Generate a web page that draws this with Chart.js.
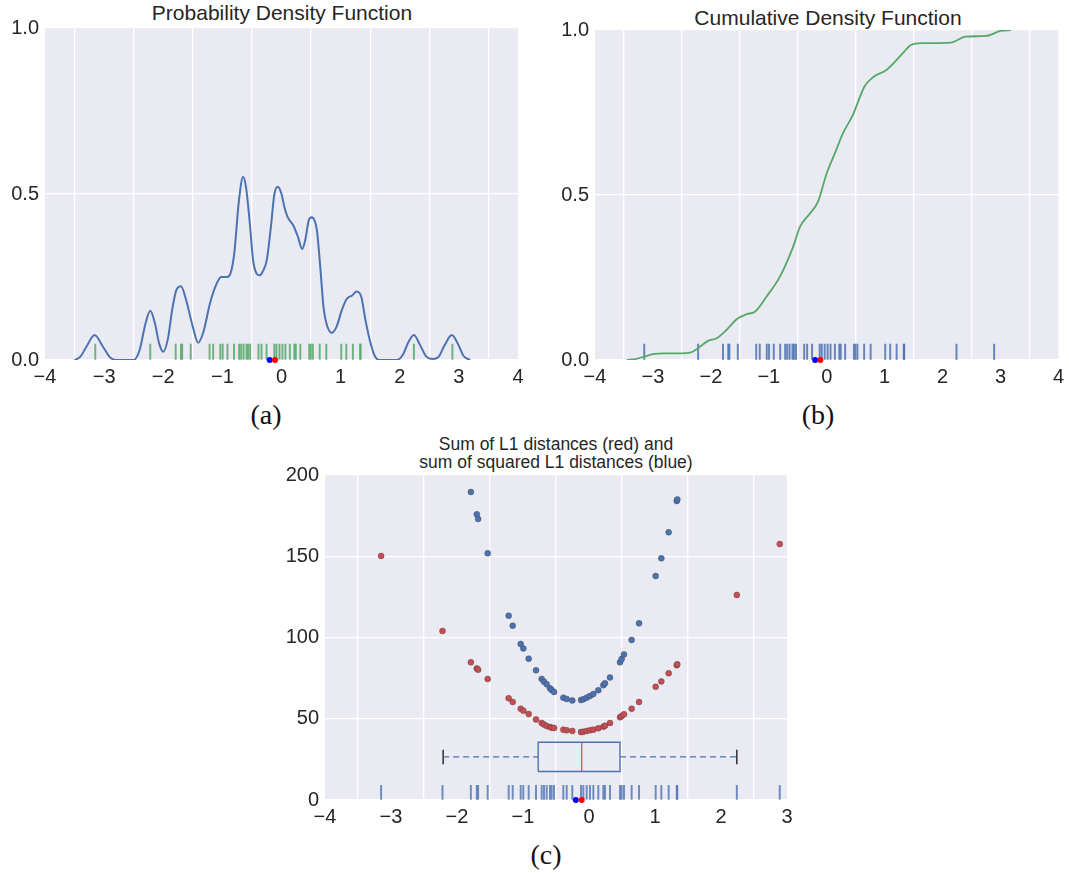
<!DOCTYPE html>
<html>
<head>
<meta charset="utf-8">
<script src="https://cdn.jsdelivr.net/npm/chart.js@4.4.1/dist/chart.umd.min.js"></script>
<style>
  body { margin: 0; background: #fff; width: 1069px; height: 873px; position: relative; overflow: hidden;
         font-family: "Liberation Sans", Arial, sans-serif; color: #262626; }
  canvas { position: absolute; }
  .title { position: absolute; transform: translate(-50%, -50%); white-space: nowrap; text-align: center; }
  .sub { position: absolute; transform: translate(-50%, -50%); font-family: "Liberation Serif", serif; font-size: 28px; color: #111; }
</style>
</head>
<body>
<div class="title" style="left:282px; top:13px; font-size:21px;">Probability Density Function</div>
<div class="title" style="left:828px; top:18px; font-size:21px;">Cumulative Density Function</div>
<div class="title" style="left:556px; top:453px; font-size:17.5px; line-height:18px;">Sum of L1 distances (red) and<br>sum of squared L1 distances (blue)</div>
<div class="sub" style="left:266px; top:415px;">(a)</div>
<div class="sub" style="left:818px; top:415px;">(b)</div>
<div class="sub" style="left:546px; top:855px;">(c)</div>

<canvas id="pdfChart" width="530" height="394" style="left:0; top:6px;"></canvas>
<canvas id="cdfChart" width="519" height="392" style="left:550px; top:8px;"></canvas>
<canvas id="distChart" width="530" height="387" style="left:270px; top:453px;"></canvas>

<script>
// observed samples (shown as rug ticks and as x of the distance plot)
const samples = [-3.15, -2.22, -1.79, -1.70, -1.68, -1.535, -1.217, -1.156, -1.035, -0.995, -0.914, -0.803,
  -0.717, -0.682, -0.641, -0.591, -0.566, -0.530, -0.389, -0.338, -0.253, -0.121, -0.086, -0.035, 0.015,
  0.066, 0.141, 0.217, 0.242, 0.318, 0.470, 0.495, 0.530, 0.646, 0.758, 1.010, 1.096, 1.207, 1.330, 1.338,
  2.24, 2.89];
// sum of |x - xi| evaluated at each sample
const l1Sums = [150.2, 104, 84.7, 81, 80.2, 74.5, 62.6, 60.3, 56.2, 55, 52.9, 49.6, 47.4, 46.4, 45.5, 44.9,
  44.5, 44.3, 43.3, 42.9, 42.5, 41.8, 42, 42.5, 42.9, 43.3, 44.1, 45.1, 45.7, 47.4, 50.9, 51.7, 52.7, 56.2,
  60.3, 69.7, 73, 78, 83, 83.5, 126.2, 157.5];
// sum of squared distances (null = above the axis limit)
const sqSums = [null, null, 189.5, 175.8, 172.9, 151.8, 113.4, 107.3, 96, 93.3, 87, 79.8, 74.5, 72.8, 71.2,
  68.7, 67.7, 66.5, 63, 62.2, 61.3, 61.5, 62, 63, 64, 65.2, 67.5, 70.6, 71.8, 75.4, 84.7, 86.8, 89.6, 98.5,
  108.7, 137.8, 148.7, 164.7, 184, 185, null, null];

const sampleMean = -0.2;
const sampleMedian = -0.11;
// whisker low, q1, median, q3, whisker high
const boxStats = [-2.21, -0.77, -0.11, 0.47, 2.24];

// kernel density estimate
const pdfX = [-3.50, -3.40, -3.30, -3.16, -3.02, -2.90, -2.80, -2.50, -2.40, -2.30, -2.22, -2.14, -2.07, -2.00,
  -1.92, -1.85, -1.78, -1.70, -1.62, -1.50, -1.41, -1.32, -1.21, -1.12, -1.02, -0.92, -0.86, -0.80, -0.72,
  -0.65, -0.60, -0.54, -0.48, -0.42, -0.37, -0.32, -0.25, -0.18, -0.12, -0.06, 0.00, 0.05, 0.10, 0.20, 0.28,
  0.35, 0.40, 0.46, 0.51, 0.56, 0.60, 0.66, 0.71, 0.76, 0.85, 0.93, 1.02, 1.10, 1.20, 1.27, 1.35, 1.42, 1.50,
  1.57, 1.65, 1.95, 2.05, 2.15, 2.24, 2.33, 2.45, 2.56, 2.65, 2.76, 2.88, 2.98, 3.08, 3.19];
const pdfY = [0.000, 0.010, 0.040, 0.075, 0.040, 0.008, 0.000, 0.000, 0.030, 0.110, 0.148, 0.110, 0.050, 0.025,
  0.065, 0.150, 0.210, 0.222, 0.185, 0.100, 0.052, 0.085, 0.170, 0.220, 0.250, 0.250, 0.262, 0.320, 0.480,
  0.552, 0.520, 0.420, 0.300, 0.260, 0.255, 0.266, 0.300, 0.400, 0.500, 0.522, 0.500, 0.460, 0.432, 0.405, 0.370,
  0.334, 0.360, 0.420, 0.430, 0.420, 0.390, 0.270, 0.160, 0.110, 0.082, 0.100, 0.150, 0.183, 0.195, 0.206, 0.190,
  0.120, 0.055, 0.015, 0.000, 0.000, 0.015, 0.055, 0.075, 0.050, 0.010, 0.003, 0.008, 0.045, 0.075, 0.050,
  0.012, 0.000];

// cumulative of the estimate
const cdfX = [-3.45, -3.30, -3.15, -3.00, -2.80, -2.50, -2.36, -2.19, -2.05, -1.90, -1.73, -1.55, -1.38, -1.24,
  -1.04, -0.81, -0.58, -0.46, -0.29, -0.15, 0.00, 0.14, 0.28, 0.45, 0.65, 0.80, 1.03, 1.31, 1.46, 1.66, 2.15,
  2.40, 2.75, 3.00, 3.18];
const cdfY = [0.000, 0.003, 0.010, 0.018, 0.020, 0.020, 0.022, 0.040, 0.058, 0.066, 0.091, 0.124, 0.139, 0.146,
  0.192, 0.252, 0.343, 0.404, 0.444, 0.480, 0.566, 0.626, 0.687, 0.742, 0.828, 0.857, 0.879, 0.929, 0.955,
  0.960, 0.962, 0.980, 0.982, 0.997, 1.000];

const BLUE = '#4C72B0', GREEN = '#55A868', RED = '#C44E52';

Chart.defaults.color = '#262626';
Chart.defaults.font.family = '"Liberation Sans", Arial, sans-serif';
Chart.defaults.animation = false;

const panelBg = {
  id: 'panelBg',
  beforeDraw(chart) {
    const { ctx, chartArea: a } = chart;
    ctx.save();
    ctx.fillStyle = '#EAEAF2';
    ctx.fillRect(a.left, a.top, a.right - a.left, a.bottom - a.top);
    ctx.restore();
  }
};

function minusLabel(v) {
  return v < 0 ? '\u2212' + Math.abs(v) : String(v);
}

function axes(xmin, xmax, ymin, ymax, ystep, yfmt, yWidth) {
  return {
    x: {
      type: 'linear', min: xmin, max: xmax, offset: false,
      grid: { color: '#fff', lineWidth: 1.3, drawTicks: false },
      border: { display: false },
      ticks: { stepSize: 1, padding: 5, font: { size: 20 }, callback: minusLabel },
      afterFit(s) { s.height = 40; }
    },
    y: {
      type: 'linear', min: ymin, max: ymax,
      grid: { color: '#fff', lineWidth: 1.3, drawTicks: false },
      border: { display: false },
      ticks: { stepSize: ystep, padding: 6, font: { size: 20 }, callback: yfmt },
      afterFit(s) { s.width = yWidth; }
    }
  };
}

function rug(color, top) {
  return {
    type: 'bar',
    data: samples.map(x => ({ x: x, y: [0, top] })),
    backgroundColor: color,
    borderWidth: 0,
    barThickness: 1.3,
    grouped: false
  };
}

function centreDots() {
  return [
    { type: 'scatter', data: [{ x: sampleMedian, y: 0 }], backgroundColor: '#FF0000', borderWidth: 0, pointRadius: 3, clip: false },
    { type: 'scatter', data: [{ x: sampleMean, y: 0 }], backgroundColor: '#0000FF', borderWidth: 0, pointRadius: 3, clip: false }
  ];
}

const baseOptions = (pad, scales) => ({
  responsive: false,
  layout: { padding: pad },
  plugins: { legend: { display: false }, tooltip: { enabled: false } },
  scales: scales
});

// (a) density
new Chart('pdfChart', {
  type: 'scatter',
  data: {
    datasets: [
      ...centreDots(),
      {
        type: 'line',
        data: pdfX.map((x, i) => ({ x: x, y: pdfY[i] })),
        borderColor: BLUE, borderWidth: 2, pointRadius: 0,
        cubicInterpolationMode: 'monotone', fill: false
      },
      rug('rgba(85,168,104,0.85)', 0.048)
    ]
  },
  options: baseOptions({ top: 22, right: 12, left: 0, bottom: 0 },
    axes(-4, 4, 0, 1, 0.5, v => v.toFixed(1), 45)),
  plugins: [panelBg]
});

// (b) cumulative
new Chart('cdfChart', {
  type: 'scatter',
  data: {
    datasets: [
      ...centreDots(),
      {
        type: 'line',
        data: cdfX.map((x, i) => ({ x: x, y: cdfY[i] })),
        borderColor: GREEN, borderWidth: 1.8, pointRadius: 0,
        cubicInterpolationMode: 'monotone', fill: false
      },
      rug('rgba(76,114,176,0.85)', 0.048)
    ]
  },
  options: baseOptions({ top: 22, right: 9, left: 0, bottom: 0 },
    axes(-4, 4, 0, 1, 0.5, v => v.toFixed(1), 45)),
  plugins: [panelBg]
});

// (c) distance sums with a box plot of the samples
const boxMid = 26.5, boxHalf = 9, capHalf = 4.5;
const [wLo, q1, med, q3, wHi] = boxStats;

new Chart('distChart', {
  type: 'scatter',
  data: {
    datasets: [
      ...centreDots(),
      {
        data: samples.map((x, i) => ({ x: x, y: sqSums[i] })),
        backgroundColor: BLUE, borderColor: 'rgba(50,50,60,0.55)', borderWidth: 0.6, pointRadius: 3
      },
      {
        data: samples.map((x, i) => ({ x: x, y: l1Sums[i] })),
        backgroundColor: RED, borderColor: 'rgba(60,40,40,0.55)', borderWidth: 0.6, pointRadius: 3
      },
      {
        type: 'line',
        data: [{ x: med, y: boxMid - boxHalf }, { x: med, y: boxMid + boxHalf }],
        borderColor: RED, borderWidth: 1.2, pointRadius: 0
      },
      {
        type: 'line',
        data: [{ x: q1, y: boxMid - boxHalf }, { x: q3, y: boxMid - boxHalf }, { x: q3, y: boxMid + boxHalf },
               { x: q1, y: boxMid + boxHalf }, { x: q1, y: boxMid - boxHalf }],
        borderColor: BLUE, borderWidth: 1.4, pointRadius: 0, tension: 0
      },
      {
        type: 'line',
        data: [{ x: wLo, y: boxMid }, { x: q1, y: boxMid }, { x: q1, y: null },
               { x: q3, y: boxMid }, { x: wHi, y: boxMid }],
        borderColor: BLUE, borderWidth: 1.2, borderDash: [6, 4], pointRadius: 0, spanGaps: false
      },
      {
        type: 'line',
        data: [{ x: wLo, y: boxMid - capHalf }, { x: wLo, y: boxMid + capHalf }, { x: wLo, y: null },
               { x: wHi, y: boxMid - capHalf }, { x: wHi, y: boxMid + capHalf }],
        borderColor: '#222', borderWidth: 1.4, pointRadius: 0, spanGaps: false
      },
      rug('rgba(76,114,176,0.8)', 9)
    ]
  },
  options: baseOptions({ top: 22, right: 13, left: 0, bottom: 0 },
    axes(-4, 3, 0, 200, 50, v => String(v), 55)),
  plugins: [panelBg]
});
</script>
</body>
</html>
